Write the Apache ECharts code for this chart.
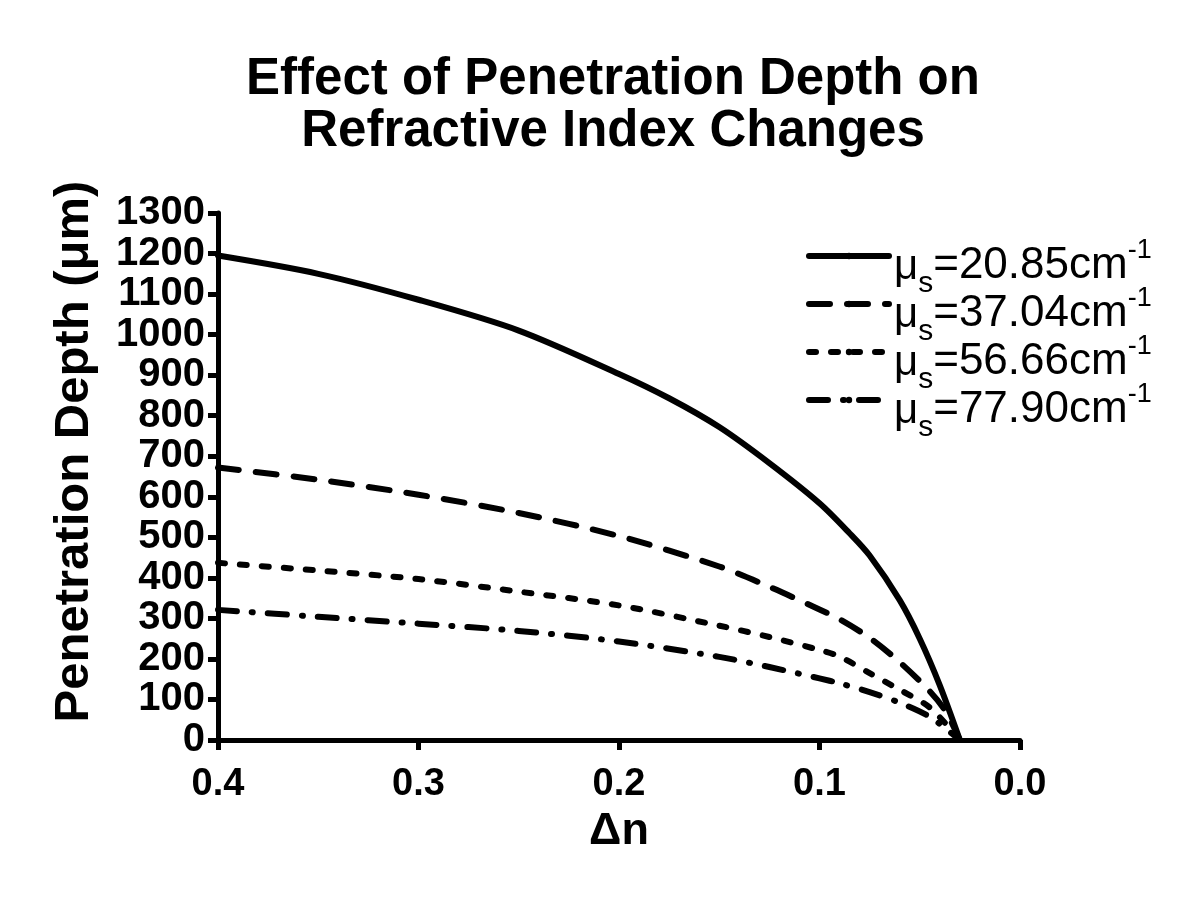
<!DOCTYPE html>
<html lang="en">
<head>
    <meta charset="UTF-8">
    <title>Effect of Penetration Depth on Refractive Index Changes</title>
    <style>
        html, body { margin: 0; padding: 0; background: #fff; }
        #main { width: 1200px; height: 915px; }
    </style>
</head>
<body>
<div id="main"></div>
<script src="https://cdn.jsdelivr.net/npm/echarts@6/dist/echarts.min.js"></script>
<script>
    // scattering coefficients (legend)
    var muLabels = ['20.85', '37.04', '56.66', '77.90'];

    // delta n (x) and penetration depth in um (y)
    var dn1 = [0.40, 0.35, 0.30, 0.25, 0.20, 0.175, 0.15, 0.125, 0.10, 0.085, 0.075, 0.06, 0.05, 0.04, 0.03];
    var depth1 = [1195, 1150, 1086, 1010, 903, 843, 772, 683, 584, 510, 455, 345, 250, 135, 0];

    var dn2 = [0.40, 0.35, 0.30, 0.25, 0.20, 0.15, 0.125, 0.10, 0.09, 0.075, 0.06, 0.045, 0.037, 0.03];
    var depth2 = [672, 642, 605, 560, 503, 428, 378, 322, 298, 252, 192, 120, 70, 0];

    var dn3 = [0.40, 0.35, 0.30, 0.25, 0.20, 0.15, 0.125, 0.10, 0.09, 0.075, 0.06, 0.045, 0.03];
    var depth3 = [437, 418, 397, 366, 332, 282, 254, 222, 206, 165, 124, 80, 0];

    var dn4 = [0.40, 0.35, 0.30, 0.25, 0.20, 0.15, 0.125, 0.10, 0.09, 0.075, 0.06, 0.045, 0.03];
    var depth4 = [321, 304, 287, 269, 243, 205, 180, 152, 140, 118, 92, 57, 0];

    function pairs(xs, ys) {
        return xs.map(function (x, i) { return [x, ys[i]]; });
    }

    var font = 'Liberation Sans, Arial, sans-serif';
    var dashes = ['solid', [21, 17], [7, 15], [19, 15, 1, 15]];
    var allData = [pairs(dn1, depth1), pairs(dn2, depth2), pairs(dn3, depth3), pairs(dn4, depth4)];

    var series = muLabels.map(function (mu, i) {
        return {
            name: mu,
            type: 'line',
            symbol: 'none',
            smooth: 0.3,
            data: allData[i],
            lineStyle: {color: '#000', width: 6, type: dashes[i], cap: 'round', join: 'round'},
            itemStyle: {color: '#000'}
        };
    });

    var chart = echarts.init(document.getElementById('main'));
    chart.setOption({
        backgroundColor: '#fff',
        animation: false,
        title: {
            text: 'Effect of Penetration Depth on\nRefractive Index Changes',
            left: 613,
            textAlign: 'center',
            top: 54,
            padding: 0,
            textStyle: {fontFamily: font, fontWeight: 'bold', fontSize: 51, lineHeight: 52, color: '#000'}
        },
        legend: {
            orient: 'vertical',
            left: 801,
            top: 208,
            itemWidth: 80,
            itemHeight: 8,
            itemGap: -38,
            lineStyle: {width: 6},
            data: muLabels,
            formatter: function (name) {
                return '{mu|μ}{sub|s}{v|=' + name + 'cm}{sup|-1}';
            },
            textStyle: {
                fontFamily: font,
                color: '#000',
                rich: {
                    mu: {fontFamily: font, fontSize: 42, lineHeight: 46, padding: [22, 0, 0, 0], color: '#000'},
                    v: {fontFamily: font, fontSize: 44, lineHeight: 46, padding: [20, 0, 0, 0], color: '#000'},
                    sub: {fontFamily: font, fontSize: 30, lineHeight: 46, padding: [56, 0, 0, 0], color: '#000'},
                    sup: {fontFamily: font, fontSize: 27, lineHeight: 46, padding: [0, 0, 10, 0], color: '#000'}
                }
            }
        },
        grid: {left: 218, right: 180, top: 213, bottom: 175},
        xAxis: {
            type: 'value',
            min: 0,
            max: 0.4,
            interval: 0.1,
            inverse: true,
            name: 'Δn',
            nameLocation: 'middle',
            nameGap: 68,
            nameTextStyle: {fontFamily: font, fontWeight: 'bold', fontSize: 45, color: '#000'},
            axisLine: {onZero: false, lineStyle: {color: '#000', width: 5}},
            axisTick: {length: 10, lineStyle: {color: '#000', width: 5}},
            axisLabel: {
                margin: 26,
                fontFamily: font, fontWeight: 'bold', fontSize: 38, color: '#000',
                formatter: function (v) { return v.toFixed(1); }
            },
            splitLine: {show: false}
        },
        yAxis: {
            type: 'value',
            min: 0,
            max: 1300,
            interval: 100,
            name: 'Penetration Depth (μm)',
            nameLocation: 'middle',
            nameGap: 119,
            nameTextStyle: {fontFamily: font, fontWeight: 'bold', fontSize: 49, color: '#000', padding: [0, 0, 0, 50]},
            axisLine: {show: true, onZero: false, lineStyle: {color: '#000', width: 5}},
            axisTick: {show: true, length: 10, lineStyle: {color: '#000', width: 5}},
            axisLabel: {
                margin: 13, fontFamily: font, fontWeight: 'bold', fontSize: 40, color: '#000',
                formatter: function (v) { return String(v); }
            },
            splitLine: {show: false}
        },
        series: series
    });
</script>
</body>
</html>
